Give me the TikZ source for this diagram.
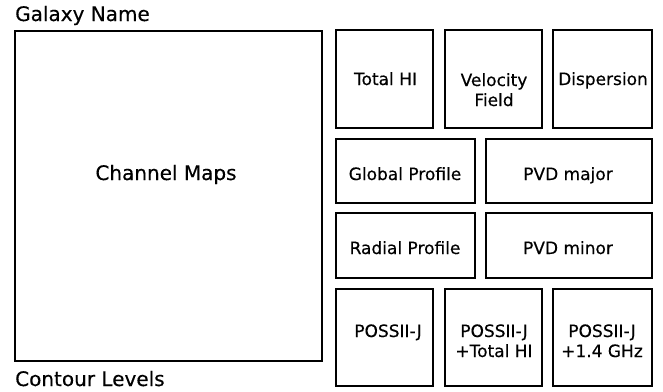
\documentclass[tikz,border=0pt]{standalone}
\usepackage{fontspec}
\setmainfont{DejaVu Sans}[FakeBold=0.4]
\begin{document}
\begin{tikzpicture}[x=1pt,y=-1pt,
  panel/.style={draw=black,line width=1.7pt,fill=white},
  biglabel/.style={font=\fontsize{20}{24}\selectfont,inner sep=0pt,anchor=base},
  boxlabel/.style={font=\fontsize{17}{20}\selectfont,inner sep=0pt,anchor=base,align=center}]
\useasboundingbox[fill=white] (0,0) rectangle (663,391);
% panels
\draw[panel] (15,31) rectangle (322,361);
\draw[panel] (336,30) rectangle (433,128);
\draw[panel] (445,30) rectangle (542,128);
\draw[panel] (553,30) rectangle (652,128);
\draw[panel] (336,139) rectangle (475,203);
\draw[panel] (486,139) rectangle (652,203);
\draw[panel] (336,213) rectangle (475,278);
\draw[panel] (486,213) rectangle (652,278);
\draw[panel] (336,289) rectangle (433,386);
\draw[panel] (445,289) rectangle (542,386);
\draw[panel] (553,289) rectangle (652,386);
% labels
\node[biglabel,anchor=base west] (gname) at (15,21) {Galaxy Name};
\node[biglabel,anchor=base west] (clev) at (15,386) {Contour Levels};
\node[biglabel] (chan) at (166,180) {Channel Maps};
\node[boxlabel] (tot) at (385.5,85) {Total HI};
\node[boxlabel] (vel) at (494,106) {Velocity\\Field};
\node[boxlabel] (disp) at (603,85) {Dispersion};
\node[boxlabel] (glob) at (405,180) {Global Profile};
\node[boxlabel] (pmaj) at (568,180) {PVD major};
\node[boxlabel] (rad) at (405,254) {Radial Profile};
\node[boxlabel] (pmin) at (568,254) {PVD minor};
\node[boxlabel] (pos1) at (388,337) {POSSII-J};
\node[boxlabel] (pos2) at (494,357) {POSSII-J\\+Total HI};
\node[boxlabel] (pos3) at (602,357) {POSSII-J\\+1.4 GHz};
\end{tikzpicture}
\end{document}
